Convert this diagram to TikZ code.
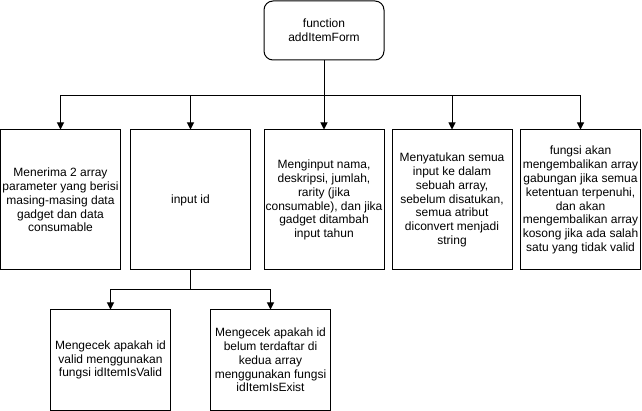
\documentclass[tikz,border=0pt]{standalone}
\usepackage{fontspec}
\setmainfont{Liberation Sans}
\usetikzlibrary{arrows.meta}
\begin{document}
\begin{tikzpicture}[x=1pt,y=-1pt,
  box/.style={draw=black, line width=1pt, fill=white, inner sep=0pt, align=center,
    minimum width=120pt, font=\fontsize{12}{13.8}\selectfont},
  arr/.style={draw=black, line width=1pt, -{Triangle[length=7pt,width=7pt]}},
  ln/.style={draw=black, line width=1pt}]
\useasboundingbox[fill=white] (0,0) rectangle (642,411);
\node[box, rounded corners=9pt, minimum height=59pt] (top) at (324,30.5) {function\\addItemForm};
\node[box, minimum height=140pt] (b1) at (60.5,200) {Menerima 2 array\\parameter yang berisi\\masing-masing data\\gadget dan data\\consumable};
\node[box, minimum height=140pt] (b2) at (190.5,200) {input id};
\node[box, minimum height=140pt] (b3) at (324,200) {Menginput nama,\\deskripsi, jumlah,\\rarity (jika\\consumable), dan jika\\gadget ditambah\\input tahun};
\node[box, minimum height=140pt] (b4) at (452,200) {Menyatukan semua\\input ke dalam\\sebuah array,\\sebelum disatukan,\\semua atribut\\diconvert menjadi\\string};
\node[box, minimum height=140pt] (b5) at (580.5,200) {fungsi akan\\mengembalikan array\\gabungan jika semua\\ketentuan terpenuhi,\\dan akan\\mengembalikan array\\kosong jika ada salah\\satu yang tidak valid};
\node[box, minimum height=100pt] (c1) at (110.5,360) {Mengecek apakah id\\valid menggunakan\\fungsi idItemIsValid};
\node[box, minimum height=100pt] (c2) at (270.5,360) {Mengecek apakah id\\belum terdaftar di\\kedua array\\menggunakan fungsi\\idItemIsExist};
\coordinate (bus) at (324,96);
\coordinate (bus2) at (190.5,290);
\draw[arr] (top.south) -- (b3.north);
\draw[arr] (top.south) |- (b1.north |- bus) -- (b1.north);
\draw[arr] (top.south) |- (b2.north |- bus) -- (b2.north);
\draw[arr] (top.south) |- (b4.north |- bus) -- (b4.north);
\draw[arr] (top.south) |- (b5.north |- bus) -- (b5.north);
\draw[arr] (b2.south) |- (c1.north |- bus2) -- (c1.north);
\draw[arr] (b2.south) |- (c2.north |- bus2) -- (c2.north);
\end{tikzpicture}
\end{document}
